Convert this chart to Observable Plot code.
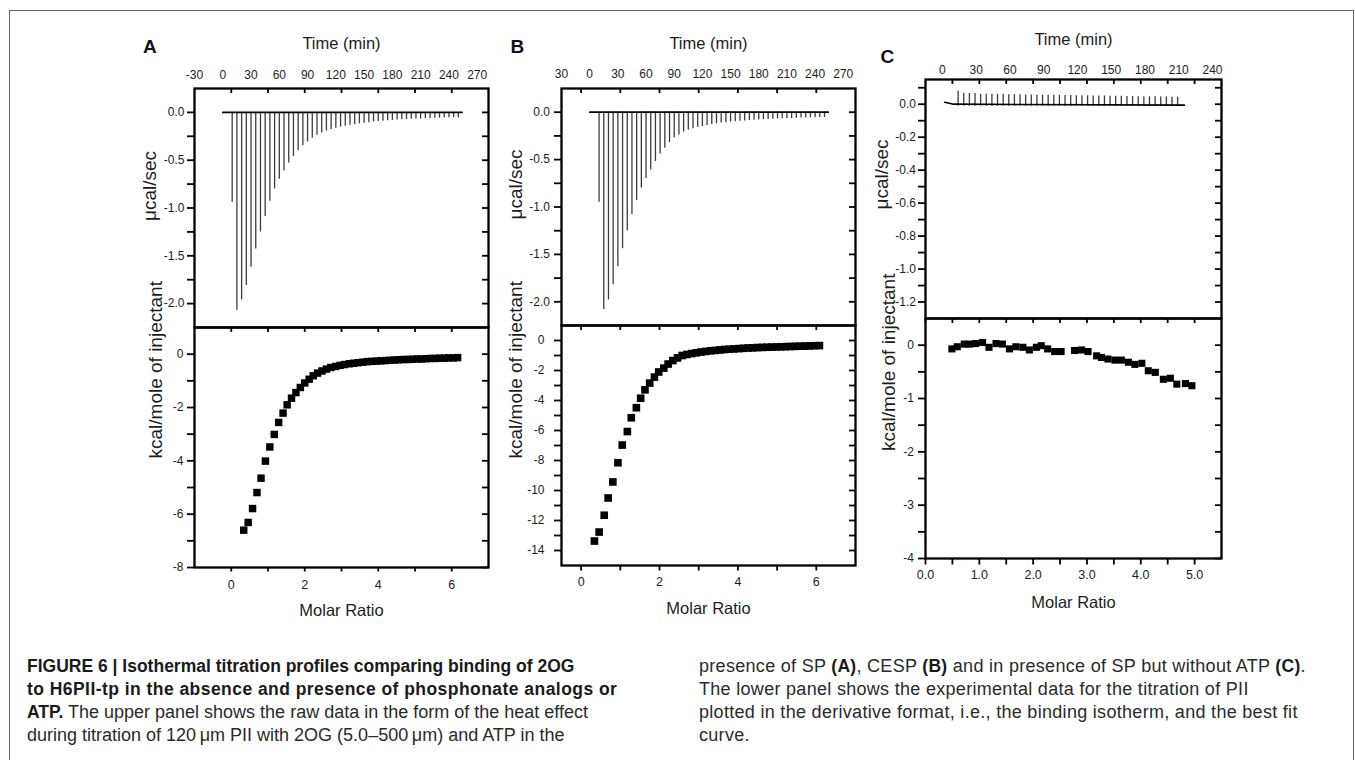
<!DOCTYPE html>
<html><head><meta charset="utf-8">
<script src="https://cdn.jsdelivr.net/npm/d3@7"></script>
<script src="https://cdn.jsdelivr.net/npm/@observablehq/plot@0.6"></script>
<style>
html,body{margin:0;padding:0;background:#fff;width:1355px;height:760px;overflow:hidden;font-family:"Liberation Sans",Arial,sans-serif;}
#border{position:absolute;left:9px;top:10px;width:1345px;height:800px;border:1px solid #666;box-sizing:border-box;}
.panel{position:absolute;}
.letter{position:absolute;font-weight:bold;font-size:19px;line-height:1;color:#111;}
.cap{position:absolute;font-size:18px;line-height:23px;color:#2a2a2a;white-space:nowrap;}
.cap b{font-size:17.5px;color:#1a1a1a;}
</style></head><body>
<div id="border"></div>
<div class="letter" style="left:143px;top:36.5px">A</div>
<div class="letter" style="left:510.5px;top:36.5px">B</div>
<div class="letter" style="left:880.5px;top:46.5px">C</div>
<div id="pAt" class="panel"></div><div id="pAb" class="panel"></div>
<div id="pBt" class="panel"></div><div id="pBb" class="panel"></div>
<div id="pCt" class="panel"></div><div id="pCb" class="panel"></div>
<div class="cap" style="left:27px;top:655px"><b>FIGURE 6 | Isothermal titration profiles comparing binding of 2OG</b><br><b style="letter-spacing:0.45px">to H6PII-tp in the absence and presence of phosphonate analogs or</b><br><b>ATP.</b> The upper panel shows the raw data in the form of the heat effect<br>during titration of 120&#8201;μm PII with 2OG (5.0–500&#8201;μm) and ATP in the</div>
<div class="cap" style="left:699px;top:655px;letter-spacing:0.3px">presence of SP <b>(A)</b>, CESP <b>(B)</b> and in presence of SP but without ATP <b>(C)</b>.<br>The lower panel shows the experimental data for the titration of PII<br>plotted in the derivative format, i.e., the binding isotherm, and the best fit<br>curve.</div>
<script>
// ---------------- DATA ----------------
const timeTicksA = [-30, 0, 30, 60, 90, 120, 150, 180, 210, 240, 270];
const timeTicksB = [-30, 0, 30, 60, 90, 120, 150, 180, 210, 240, 270];
const timeTicksC = [0, 30, 60, 90, 120, 150, 180, 210, 240];

// panel A raw data (injection time, peak heat rate)
const injTimeA = [10,15,20,25,30,35,40,45,50,55,60,65,70,75,80,85,90,95,100,105,110,115,120,125,130,135,140,145,150,155,160,165,170,175,180,185,190,195,200,205,210,215,220,225,230,235,240,245,250];
const peakA = [-0.94,-2.07,-1.96,-1.81,-1.62,-1.43,-1.25,-1.09,-0.93,-0.80,-0.70,-0.61,-0.53,-0.46,-0.40,-0.35,-0.31,-0.27,-0.24,-0.215,-0.195,-0.18,-0.165,-0.155,-0.145,-0.135,-0.127,-0.12,-0.113,-0.107,-0.10,-0.096,-0.092,-0.088,-0.084,-0.08,-0.077,-0.074,-0.072,-0.07,-0.068,-0.066,-0.064,-0.062,-0.06,-0.058,-0.057,-0.056,-0.055];
const baseTimeA = [0, 254];
const baseHeatA = [0, 0];

// panel B raw data
const injTimeB = [10,15,20,25,30,35,40,45,50,55,60,65,70,75,80,85,90,95,100,105,110,115,120,125,130,135,140,145,150,155,160,165,170,175,180,185,190,195,200,205,210,215,220,225,230,235,240,245,250];
const peakB = [-0.95,-2.08,-1.98,-1.82,-1.63,-1.44,-1.25,-1.08,-0.93,-0.80,-0.70,-0.61,-0.52,-0.44,-0.38,-0.32,-0.27,-0.24,-0.21,-0.19,-0.175,-0.16,-0.15,-0.14,-0.13,-0.122,-0.115,-0.11,-0.105,-0.10,-0.096,-0.092,-0.088,-0.085,-0.082,-0.079,-0.076,-0.074,-0.072,-0.07,-0.068,-0.066,-0.064,-0.062,-0.06,-0.06,-0.058,-0.057,-0.056];
const baseTimeB = [0, 254];
const baseHeatB = [0, 0];

// panel C raw data
const injTimeC = [14,19,24,29,34,39,44,49,54,59,64,69,74,79,84,89,94,99,104,109,114,119,124,129,134,139,144,149,154,159,164,169,174,179,184,189,194,199,204,209];
const peakC = [0.08,0.065,0.065,0.065,0.06,0.06,0.06,0.06,0.06,0.058,0.058,0.058,0.056,0.056,0.055,0.055,0.055,0.054,0.054,0.053,0.053,0.052,0.052,0.051,0.05,0.05,0.05,0.049,0.048,0.048,0.047,0.047,0.046,0.046,0.045,0.045,0.044,0.044,0.043,0.043];
const dipC = -0.012;
const baseTimeC = [2, 10, 215];
const baseHeatC = [0.012, 0, -0.006];

// integrated heats (molar ratio, kcal/mole of injectant)
const ratioA = [0.34,0.46,0.58,0.70,0.81,0.93,1.05,1.17,1.29,1.41,1.52,1.64,1.76,1.88,2.00,2.12,2.23,2.35,2.47,2.59,2.71,2.84,2.96,3.08,3.21,3.33,3.45,3.58,3.70,3.82,3.95,4.07,4.19,4.32,4.44,4.56,4.69,4.81,4.93,5.06,5.18,5.30,5.43,5.55,5.67,5.80,5.92,6.04,6.16];
const heatA = [-6.60,-6.31,-5.79,-5.19,-4.65,-4.01,-3.48,-3.01,-2.56,-2.21,-1.90,-1.65,-1.44,-1.25,-1.08,-0.94,-0.81,-0.71,-0.63,-0.56,-0.50,-0.46,-0.42,-0.39,-0.36,-0.34,-0.32,-0.30,-0.28,-0.27,-0.26,-0.25,-0.24,-0.23,-0.22,-0.21,-0.20,-0.20,-0.19,-0.18,-0.18,-0.17,-0.16,-0.16,-0.15,-0.15,-0.14,-0.14,-0.13];
const ratioB = [0.34,0.46,0.59,0.69,0.81,0.94,1.05,1.18,1.28,1.41,1.52,1.63,1.75,1.87,1.98,2.11,2.22,2.34,2.46,2.58,2.70,2.82,2.94,3.06,3.18,3.30,3.42,3.54,3.66,3.78,3.90,4.02,4.14,4.26,4.38,4.50,4.62,4.74,4.86,4.98,5.10,5.22,5.34,5.46,5.58,5.70,5.82,5.94,6.08];
const heatB = [-13.37,-12.77,-11.65,-10.50,-9.43,-8.15,-6.97,-6.07,-5.15,-4.48,-3.85,-3.29,-2.84,-2.44,-2.10,-1.84,-1.57,-1.34,-1.16,-1.00,-0.93,-0.87,-0.82,-0.77,-0.73,-0.69,-0.66,-0.63,-0.60,-0.58,-0.56,-0.54,-0.52,-0.50,-0.49,-0.47,-0.46,-0.45,-0.44,-0.43,-0.42,-0.41,-0.40,-0.39,-0.38,-0.37,-0.36,-0.35,-0.34];
const ratioC = [0.49,0.59,0.72,0.82,0.93,1.06,1.18,1.31,1.43,1.56,1.68,1.81,1.93,2.06,2.15,2.27,2.40,2.52,2.77,2.90,3.02,3.18,3.27,3.39,3.52,3.64,3.77,3.89,4.02,4.14,4.27,4.42,4.55,4.67,4.83,4.95];
const heatC = [-0.07,-0.03,0.02,0.02,0.03,0.05,-0.04,0.03,0.02,-0.07,-0.03,-0.04,-0.09,-0.04,-0.01,-0.07,-0.12,-0.12,-0.10,-0.09,-0.12,-0.20,-0.23,-0.26,-0.28,-0.28,-0.32,-0.36,-0.34,-0.48,-0.51,-0.64,-0.62,-0.73,-0.72,-0.76];

// tick values
const yMajTopAB = [0, -0.5, -1.0, -1.5, -2.0];
const yMinTopAB = [-0.25, -0.75, -1.25, -1.75];
const yMajTopC = [0, -0.2, -0.4, -0.6, -0.8, -1.0, -1.2];
const yMinTopC = [0.1, -0.1, -0.3, -0.5, -0.7, -0.9, -1.1];
const yMajBotA = [0, -2, -4, -6, -8];
const yMinBotA = [-1, -3, -5, -7];
const yMajBotB = [0, -2, -4, -6, -8, -10, -12, -14];
const yMinBotB = [-1, -3, -5, -7, -9, -11, -13];
const yMajBotC = [0, -1, -2, -3, -4];
const yMinBotC = [-0.5, -1.5, -2.5, -3.5];
const xMajBotAB = [0, 2, 4, 6];
const xMinBotA = [1, 3, 5];
const xMinBotB = [1, 3, 5];
const xMajBotC = [0, 1, 2, 3, 4, 5];
const xMinBotC = [0.5, 1.5, 2.5, 3.5, 4.5];
const xTopEdgeAB = [0, 1, 2, 3, 4, 5, 6];
const xTopEdgeC = [0.5, 1.0, 1.5, 2.0, 2.5, 3.0, 3.5, 4.0, 4.5, 5.0];

// ---------------- DRAW ----------------
const FONT = '"Liberation Sans", Arial, sans-serif';
const TW = 1.8; // tick stroke width

function place(id, left, top, svg) {
  const el = document.getElementById(id);
  el.style.left = left + "px"; el.style.top = top + "px";
  el.appendChild(svg);
}

// tick marks drawn through the scales; insets only set their length
function yTicks(vals, fw, outLen, inLen) {
  return [
    Plot.tickY(vals, {y: d => d, insetLeft: -outLen, insetRight: fw, stroke: "#000", strokeWidth: TW}),
    Plot.tickY(vals, {y: d => d, insetLeft: fw - inLen, insetRight: 0, stroke: "#000", strokeWidth: TW})
  ];
}
function xTopTicks(vals, fh, inLen) {
  return Plot.tickX(vals, {x: d => d, insetTop: 0, insetBottom: fh - inLen, stroke: "#000", strokeWidth: TW});
}
function xBottomTicks(vals, fh, outLen) {
  return Plot.tickX(vals, {x: d => d, insetTop: fh, insetBottom: -outLen, stroke: "#000", strokeWidth: TW});
}

function drawTop(c) {
  const mL = c.fl - c.left, mT = c.ft - c.top, mR = 14, mB = 6;
  const W = c.fr - c.left + mR, H = c.fb - c.top + mB;
  const fw = c.fr - c.fl, fh = c.fb - c.ft;
  const yAll = [...c.yMaj, ...c.yMin];
  const m2t = d3.scaleLinear(c.mDomain, c.xDomain);
  const edgeTicks = c.edge.map(m2t);
  const svg = Plot.plot({
    width: W, height: H, marginLeft: mL, marginRight: mR, marginTop: mT, marginBottom: mB,
    style: {background: "none", fontFamily: FONT, color: "#1c1c1c", overflow: "visible"},
    x: {domain: c.xDomain}, y: {domain: c.yDomain},
    marks: [
      Plot.ruleX(c.t, {x: c.t, y1: c.low, y2: c.peak, stroke: "#3c3c3c", strokeWidth: 1.3}),
      Plot.line(c.bt, {x: c.bt, y: c.by, stroke: "#000", strokeWidth: 1.7}),
      Plot.axisY(c.yMaj, {anchor: "left", tickSize: 0, tickPadding: c.yPad, tickFormat: d => d.toFixed(1), fontSize: 12, label: null}),
      Plot.axisX(c.xTicks, {anchor: "top", tickSize: 0, tickPadding: c.xPad, tickFormat: c.xFmt, fontSize: 12, label: null}),
      ...yTicks(yAll, fw, 7, 6),
      xTopTicks(edgeTicks, fh, 5),
      Plot.frame({stroke: "#000", strokeWidth: 2.3}),
      Plot.text(["Time (min)"], {text: d => d, frameAnchor: "top", lineAnchor: "top", dy: c.titleDy, fontSize: 16.5}),
      Plot.text(["μcal/sec"], {text: d => d, frameAnchor: "left", rotate: -90, lineAnchor: "top", dx: -c.yLabOff, dy: c.yLabDy, fontSize: 19})
    ]
  });
  place(c.id, c.left, c.top, svg);
}

function drawBottom(c) {
  const mL = c.fl - c.left, mT = c.ft - c.top, mR = 14, mB = 60;
  const W = c.fr - c.left + mR, H = c.fb - c.top + mB;
  const fw = c.fr - c.fl, fh = c.fb - c.ft;
  const yAll = [...c.yMaj, ...c.yMin];
  const xAll = [...c.xMaj, ...c.xMin];
  const svg = Plot.plot({
    width: W, height: H, marginLeft: mL, marginRight: mR, marginTop: mT, marginBottom: mB,
    style: {background: "none", fontFamily: FONT, color: "#1c1c1c", overflow: "visible"},
    x: {domain: c.xDomain}, y: {domain: c.yDomain},
    marks: [
      Plot.dot(c.mr, {x: c.mr, y: c.h, symbol: "square", r: c.r, fill: "#000", stroke: "none"}),
      Plot.axisY(c.yMaj, {anchor: "left", tickSize: 0, tickPadding: c.yPad, tickFormat: d => String(d), fontSize: 12, label: null}),
      Plot.axisX(c.xMaj, {anchor: "bottom", tickSize: 0, tickPadding: c.xPad, tickFormat: c.xFmt, fontSize: 12.5, label: null}),
      ...yTicks(yAll, fw, 7, 6),
      xTopTicks(xAll, fh, 5),
      xBottomTicks(xAll, fh, c.xTick),
      Plot.frame({stroke: "#000", strokeWidth: 2.3}),
      Plot.text(["Molar Ratio"], {text: d => d, frameAnchor: "bottom", lineAnchor: "bottom", dy: c.titleDy, fontSize: 16.5}),
      Plot.text(["kcal/mole of injectant"], {text: d => d, frameAnchor: "left", rotate: -90, lineAnchor: "top", dx: -c.yLabOff, dy: c.yLabDy, fontSize: 19})
    ]
  });
  place(c.id, c.left, c.top, svg);
}

drawTop({id: "pAt", left: 120, top: 14, fl: 194, fr: 488, ft: 88, fb: 327,
  xDomain: [-30, 282], yDomain: [-2.25, 0.25], mDomain: [-1, 7], edge: xTopEdgeAB,
  xTicks: timeTicksA, xFmt: d => String(d), xPad: 9.5, yPad: 10,
  yMaj: yMajTopAB, yMin: yMinTopAB, t: injTimeA, low: 0, peak: peakA, bt: baseTimeA, by: baseHeatA,
  titleDy: -51.3, yLabOff: 52, yLabDy: 13});
drawBottom({id: "pAb", left: 120, top: 321, fl: 194, fr: 488, ft: 327, fb: 567,
  xDomain: [-1, 7], yDomain: [-8, 1], xMaj: xMajBotAB, xMin: xMinBotA, yMaj: yMajBotA, yMin: yMinBotA,
  xFmt: d => String(d), xPad: 13, yPad: 11, xTick: 4.5, mr: ratioA, h: heatA, r: 4.2,
  titleDy: 48, yLabOff: 46, yLabDy: 11});

drawTop({id: "pBt", left: 487, top: 14, fl: 561, fr: 855, ft: 88, fb: 325,
  xDomain: [-30, 283], yDomain: [-2.25, 0.25], mDomain: [-0.5, 7], edge: xTopEdgeAB,
  xTicks: timeTicksB, xFmt: d => String(Math.abs(d)), xPad: 10.5, yPad: 11.5,
  yMaj: yMajTopAB, yMin: yMinTopAB, t: injTimeB, low: 0, peak: peakB, bt: baseTimeB, by: baseHeatB,
  titleDy: -51.3, yLabOff: 52.7, yLabDy: 12.5});
drawBottom({id: "pBb", left: 487, top: 319, fl: 561, fr: 855, ft: 325, fb: 565,
  xDomain: [-0.5, 7], yDomain: [-15, 1], xMaj: xMajBotAB, xMin: xMinBotB, yMaj: yMajBotB, yMin: yMinBotB,
  xFmt: d => String(d), xPad: 12, yPad: 17, xTick: 5.5, mr: ratioB, h: heatB, r: 4.3,
  titleDy: 48, yLabOff: 53, yLabDy: 13});

drawTop({id: "pCt", left: 851, top: 5, fl: 925, fr: 1221, ft: 79, fb: 318,
  xDomain: [-15, 248], yDomain: [-1.3, 0.15], mDomain: [0, 5.5], edge: xTopEdgeC,
  xTicks: timeTicksC, xFmt: d => String(d), xPad: 5.5, yPad: 9.5,
  yMaj: yMajTopC, yMin: yMinTopC, t: injTimeC, low: dipC, peak: peakC, bt: baseTimeC, by: baseHeatC,
  titleDy: -46.7, yLabOff: 51, yLabDy: 10.5});
drawBottom({id: "pCb", left: 851, top: 312, fl: 925, fr: 1221, ft: 318, fb: 558,
  xDomain: [0, 5.5], yDomain: [-4, 0.5], xMaj: xMajBotC, xMin: xMinBotC, yMaj: yMajBotC, yMin: yMinBotC,
  xFmt: d => d.toFixed(1), xPad: 12, yPad: 11.5, xTick: 6.5, mr: ratioC, h: heatC, r: 4.0,
  titleDy: 49.7, yLabOff: 44, yLabDy: 12.5});
</script>
</body></html>
